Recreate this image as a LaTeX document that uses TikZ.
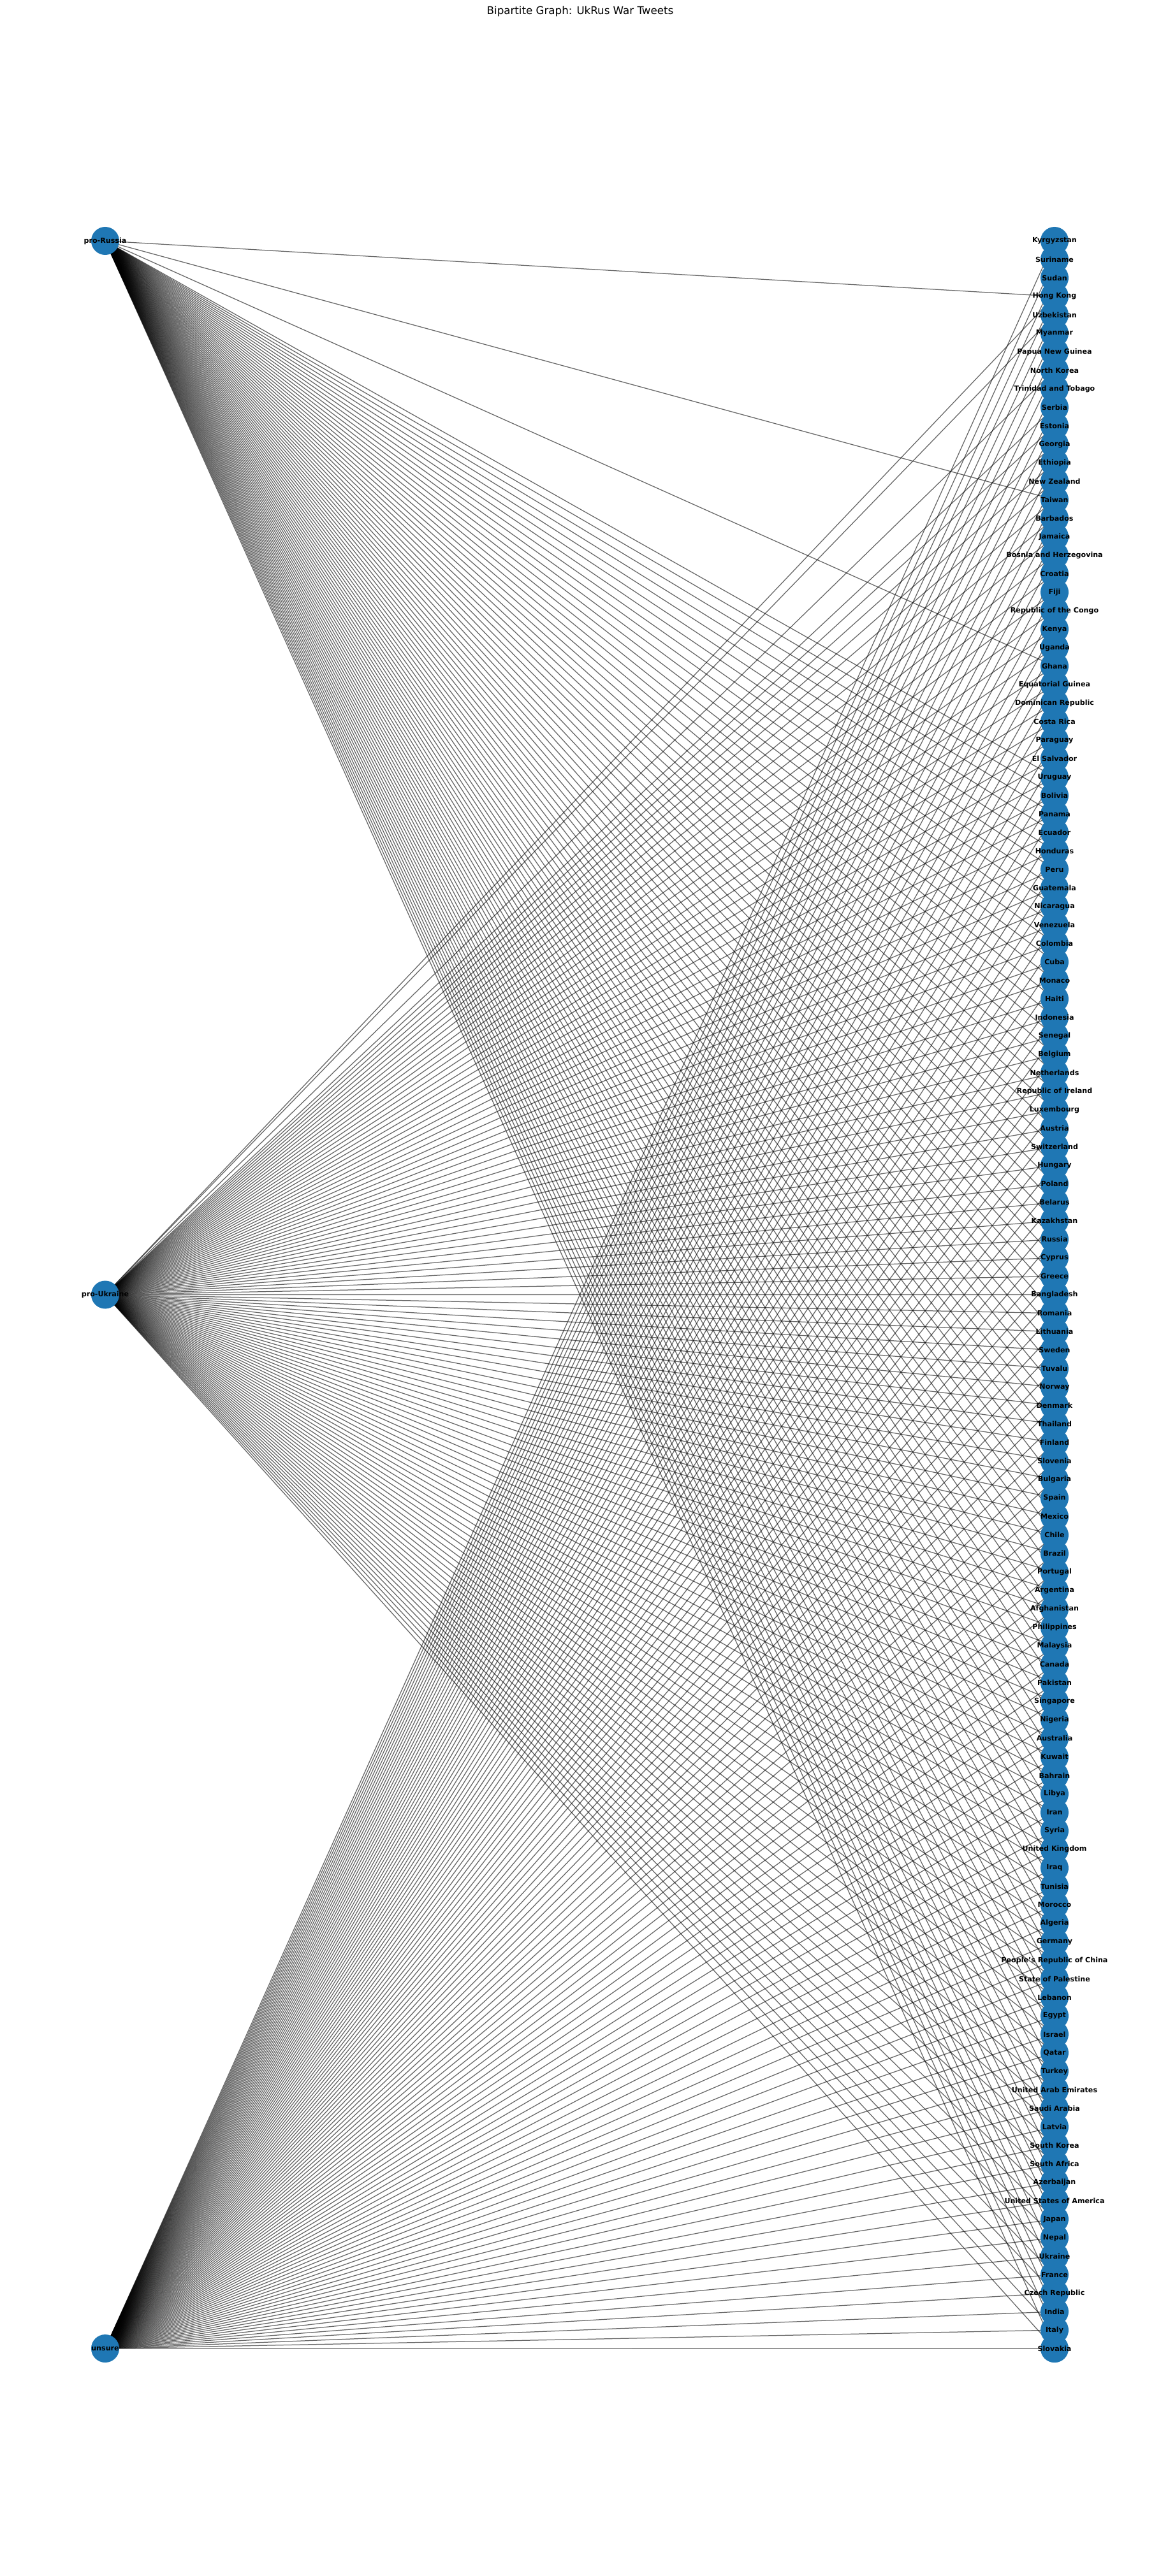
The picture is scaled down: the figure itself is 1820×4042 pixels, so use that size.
\documentclass[tikz,border=0pt]{standalone}
\usepackage{fontspec}
\setmainfont{DejaVu Sans}
\definecolor{nodeblue}{HTML}{1F77B4}
\tikzset{
  edge/.style={draw=black, draw opacity=0.6, line width=0.9pt},
  vert/.style={circle, fill=nodeblue, minimum size=31.7pt, inner sep=0pt},
  lbl/.style={font=\fontsize{8}{9.6}\selectfont\bfseries, inner sep=0pt}
}
\begin{document}
\begin{tikzpicture}[x=0.72pt, y=-0.72pt]
\useasboundingbox (0,0) rectangle (1820,4042);
\node[font=\fontsize{12}{14}\selectfont] (title) at (910,18) {Bipartite Graph: UkRus War Tweets};
% sides
\coordinate (ru) at (165,378);
\coordinate (ua) at (165,2031.5);
\coordinate (un) at (165,3685);
\foreach \k in {1,...,115}
  \coordinate (c\k) at (1654,{378+29.01*(\k-1)});
% edges
\foreach \k in {4,15,24,30,31,...,115}
  \draw[edge] (ru) -- (c\k);
\foreach \k in {4,5,8,10,11,...,115}
  \draw[edge] (ua) -- (c\k);
\foreach \k in {1,...,115}
  \draw[edge] (un) -- (c\k);
% vertices
\foreach \s in {ru,ua,un}
  \node[vert] (v\s) at (\s) {};
\foreach \k in {1,...,115}
  \node[vert] (v\k) at (c\k) {};
% labels
\node[lbl] (lru) at (ru) {pro-Russia};
\node[lbl] (lua) at (ua) {pro-Ukraine};
\node[lbl] (lun) at (un) {unsure};
\foreach \name [count=\k] in {Kyrgyzstan, Suriname, Sudan, Hong Kong, Uzbekistan,
  Myanmar, Papua New Guinea, North Korea, Trinidad and Tobago, Serbia, Estonia,
  Georgia, Ethiopia, New Zealand, Taiwan, Barbados, Jamaica, Bosnia and Herzegovina,
  Croatia, Fiji, Republic of the Congo, Kenya, Uganda, Ghana, Equatorial Guinea,
  Dominican Republic, Costa Rica, Paraguay, El Salvador, Uruguay, Bolivia, Panama,
  Ecuador, Honduras, Peru, Guatemala, Nicaragua, Venezuela, Colombia, Cuba, Monaco,
  Haiti, Indonesia, Senegal, Belgium, Netherlands, Republic of Ireland, Luxembourg,
  Austria, Switzerland, Hungary, Poland, Belarus, Kazakhstan, Russia, Cyprus, Greece,
  Bangladesh, Romania, Lithuania, Sweden, Tuvalu, Norway, Denmark, Thailand, Finland,
  Slovenia, Bulgaria, Spain, Mexico, Chile, Brazil, Portugal, Argentina, Afghanistan,
  Philippines, Malaysia, Canada, Pakistan, Singapore, Nigeria, Australia, Kuwait,
  Bahrain, Libya, Iran, Syria, United Kingdom, Iraq, Tunisia, Morocco, Algeria,
  Germany, People's Republic of China, State of Palestine, Lebanon, Egypt, Israel,
  Qatar, Turkey, United Arab Emirates, Saudi Arabia, Latvia, South Korea,
  South Africa, Azerbaijan, United States of America, Japan, Nepal, Ukraine, France,
  Czech Republic, India, Italy, Slovakia}
  \node[lbl] (l\k) at (c\k) {\name};
\end{tikzpicture}
\end{document}
